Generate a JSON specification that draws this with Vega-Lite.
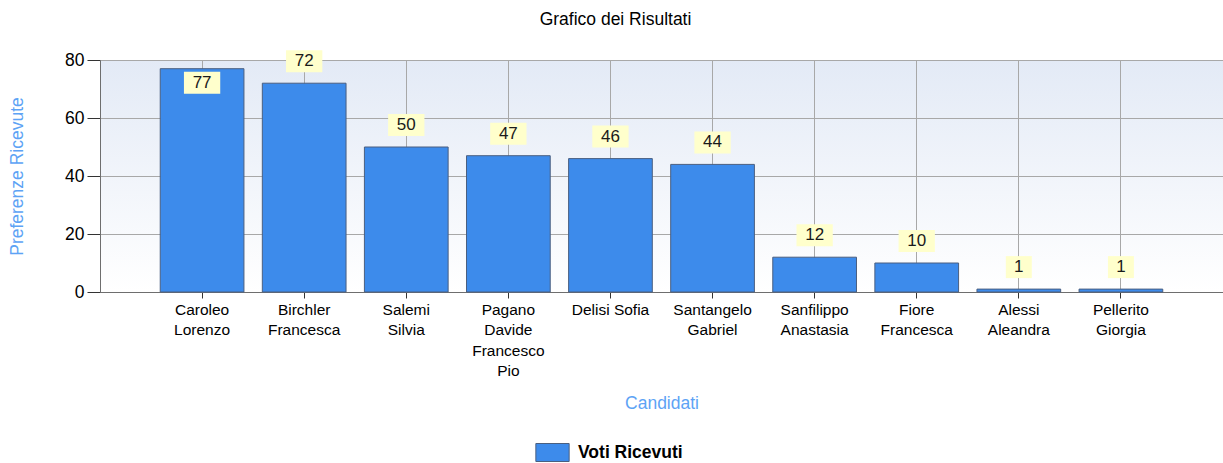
{
  "$schema": "https://vega.github.io/schema/vega-lite/v6.json",
  "width": 1123,
  "height": 232,
  "autosize": {"type": "none"},
  "padding": {"left": 100, "top": 60, "right": 0, "bottom": 171},
  "background": "#ffffff",
  "title": {
    "text": "Grafico dei Risultati",
    "anchor": "middle",
    "frame": "bounds",
    "font": "Liberation Sans",
    "fontSize": 17.5,
    "fontWeight": "normal",
    "color": "#000000",
    "offset": 22
  },
  "config": {
    "font": "Liberation Sans",
    "view": {
      "stroke": null,
      "fill": {
        "gradient": "linear",
        "x1": 0, "y1": 0, "x2": 0, "y2": 1,
        "stops": [
          {"offset": 0, "color": "#E3EAF6"},
          {"offset": 1, "color": "#FFFFFF"}
        ]
      }
    }
  },
  "data": {
    "values": [
      {"Candidato": "Caroleo Lorenzo", "Voti": 77},
      {"Candidato": "Birchler Francesca", "Voti": 72},
      {"Candidato": "Salemi Silvia", "Voti": 50},
      {"Candidato": "Pagano Davide Francesco Pio", "Voti": 47},
      {"Candidato": "Delisi Sofia", "Voti": 46},
      {"Candidato": "Santangelo Gabriel", "Voti": 44},
      {"Candidato": "Sanfilippo Anastasia", "Voti": 12},
      {"Candidato": "Fiore Francesca", "Voti": 10},
      {"Candidato": "Alessi Aleandra", "Voti": 1},
      {"Candidato": "Pellerito Giorgia", "Voti": 1}
    ]
  },
  "encoding": {
    "x": {
      "field": "Candidato",
      "type": "nominal",
      "sort": null,
      "scale": {"paddingInner": 0.18, "paddingOuter": 0.59},
      "axis": {
        "title": "Candidati",
        "titleFont": "Liberation Sans",
        "titleFontSize": 17.5,
        "titleFontWeight": "normal",
        "titleColor": "#5DA3F5",
        "titleBaseline": "middle",
        "titleY": 111,
        "labelAngle": 0,
        "labelFontSize": 15.5,
        "labelColor": "#000000",
        "labelLineHeight": 20.5,
        "labelBaseline": "top",
        "labelPadding": 4,
        "labelLimit": 200,
        "labelExpr": "datum.label == 'Delisi Sofia' ? datum.label : split(datum.label, ' ')",
        "bandPosition": 0.5,
        "grid": true,
        "gridColor": "#A8A8A8",
        "gridOpacity": 1,
        "domainColor": "#6E6E6E",
        "tickColor": "#333333",
        "tickSize": 6
      }
    },
    "y": {
      "field": "Voti",
      "type": "quantitative",
      "scale": {"domain": [0, 80], "nice": false},
      "axis": {
        "title": "Preferenze Ricevute",
        "titleFont": "Liberation Sans",
        "titleFontSize": 17.5,
        "titleFontWeight": "normal",
        "titleColor": "#5DA3F5",
        "titleX": -83,
        "titleY": 116,
        "titleBaseline": "middle",
        "titleAlign": "center",
        "values": [0, 20, 40, 60, 80],
        "labelFontSize": 17.5,
        "labelColor": "#000000",
        "labelPadding": 3,
        "grid": true,
        "gridColor": "#A8A8A8",
        "gridOpacity": 1,
        "domainColor": "#6E6E6E",
        "tickColor": "#333333",
        "tickSize": 13
      }
    }
  },
  "layer": [
    {
      "mark": {"type": "bar", "stroke": "#4A5F80", "strokeWidth": 1},
      "encoding": {
        "color": {
          "datum": "Voti Ricevuti",
          "type": "nominal",
          "scale": {"range": ["#3D8BEB"]},
          "legend": {
            "title": null,
            "orient": "none",
            "legendX": 443,
            "legendY": 383,
            "symbolType": "M-1.85,-1L1.85,-1L1.85,1L-1.85,1Z",
            "symbolSize": 324,
            "symbolStrokeColor": "#4A5F80",
            "symbolStrokeWidth": 1,
            "labelFont": "Liberation Sans",
            "labelFontSize": 17.5,
            "labelFontWeight": "bold",
            "labelColor": "#000000",
            "labelOffset": 16
          }
        }
      }
    },
    {
      "transform": [{"filter": "datum.Voti < 75"}],
      "mark": {"type": "point", "filled": true, "fill": "#FFFFCC", "opacity": 1, "strokeWidth": 0, "size": 484, "yOffset": -22},
      "encoding": {
        "shape": {
          "condition": {"test": "datum.Voti < 10", "value": "M-1.18,-1L1.18,-1L1.18,1L-1.18,1Z"},
          "value": "M-1.65,-1L1.65,-1L1.65,1L-1.65,1Z"
        }
      }
    },
    {
      "transform": [{"filter": "datum.Voti < 75"}],
      "mark": {"type": "text", "fontSize": 17, "color": "#1A1A1A", "baseline": "middle", "dy": -22},
      "encoding": {"text": {"field": "Voti", "type": "quantitative"}}
    },
    {
      "transform": [{"filter": "datum.Voti >= 75"}],
      "mark": {"type": "point", "filled": true, "fill": "#FFFFCC", "opacity": 1, "strokeWidth": 0, "size": 484, "yOffset": 14,
        "shape": "M-1.65,-1L1.65,-1L1.65,1L-1.65,1Z"},
      "encoding": {}
    },
    {
      "transform": [{"filter": "datum.Voti >= 75"}],
      "mark": {"type": "text", "fontSize": 17, "color": "#1A1A1A", "baseline": "middle", "dy": 14},
      "encoding": {"text": {"field": "Voti", "type": "quantitative"}}
    }
  ]
}
